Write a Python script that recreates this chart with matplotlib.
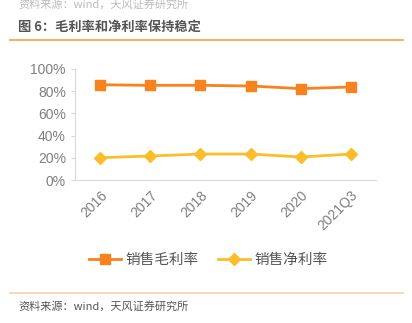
import matplotlib
matplotlib.use("Agg")
import matplotlib.pyplot as plt
from matplotlib.ticker import PercentFormatter

plt.rcParams['font.family'] = ['Noto Sans CJK SC', 'DejaVu Sans']

years = ["2016", "2017", "2018", "2019", "2020", "2021Q3"]
gross_margin = [85.8, 85.3, 85.3, 84.7, 82.3, 83.8]
net_margin = [20.1, 21.6, 23.4, 23.4, 20.7, 23.4]

ORANGE = "#F7821E"
YELLOW = "#FCBD2A"
GREY = "#7f7f7f"

fig = plt.figure(figsize=(4.12, 3.23), dpi=100)
W, H = 412, 323

# header / footer
fig.text(18 / W, 1 - 4 / H, "资料来源：wind，天风证券研究所", fontsize=8,
         color="#bbbbbb", va="center", ha="left")
fig.text(18 / W, 1 - 27 / H, "图 6：毛利率和净利率保持稳定", fontsize=9.5,
         color="#555555", fontweight="bold", va="center", ha="left")
fig.add_artist(plt.Line2D([10 / W, 403 / W], [1 - 40 / H, 1 - 40 / H],
                          color="#F5A04A", lw=1.2))
fig.add_artist(plt.Line2D([10 / W, 403 / W], [1 - 293 / H, 1 - 293 / H],
                          color="#FAD0A8", lw=1.2))
fig.text(18 / W, 1 - 306 / H, "资料来源：wind，天风证券研究所", fontsize=8,
         color="#555555", va="center", ha="left")

ax = fig.add_axes([75 / W, 1 - 180 / H, 301 / W, 111 / H])
x = range(len(years))
ax.plot(x, gross_margin, color=ORANGE, lw=2, marker="s", markersize=7.5,
        label="销售毛利率")
ax.plot(x, net_margin, color=YELLOW, lw=2, marker="D", markersize=6.5,
        label="销售净利率")

ax.set_xlim(-0.5, 5.5)
ax.set_ylim(0, 100)
ax.set_yticks([0, 20, 40, 60, 80, 100])
ax.yaxis.set_major_formatter(PercentFormatter(decimals=0))
ax.set_xticks(list(x))
ax.set_xticklabels(years, rotation=45, ha="right", rotation_mode="anchor")
ax.tick_params(axis="y", colors="#d9d9d9", labelcolor=GREY, labelsize=10,
               length=3, width=0.8)
ax.tick_params(axis="x", length=0, labelcolor=GREY, labelsize=10, pad=6)
for lab in ax.get_xticklabels() + ax.get_yticklabels():
    lab.set_family("Liberation Sans")
for s in ["top", "right"]:
    ax.spines[s].set_visible(False)
for s in ["left", "bottom"]:
    ax.spines[s].set_color("#d9d9d9")

fig.legend(loc="center", bbox_to_anchor=(0.505, 1 - 260 / H), ncol=2,
           frameon=False, fontsize=10.5, labelcolor="#555555",
           handlelength=2.2, columnspacing=1.3, handletextpad=0.3)

fig.savefig("out.png", dpi=100)
